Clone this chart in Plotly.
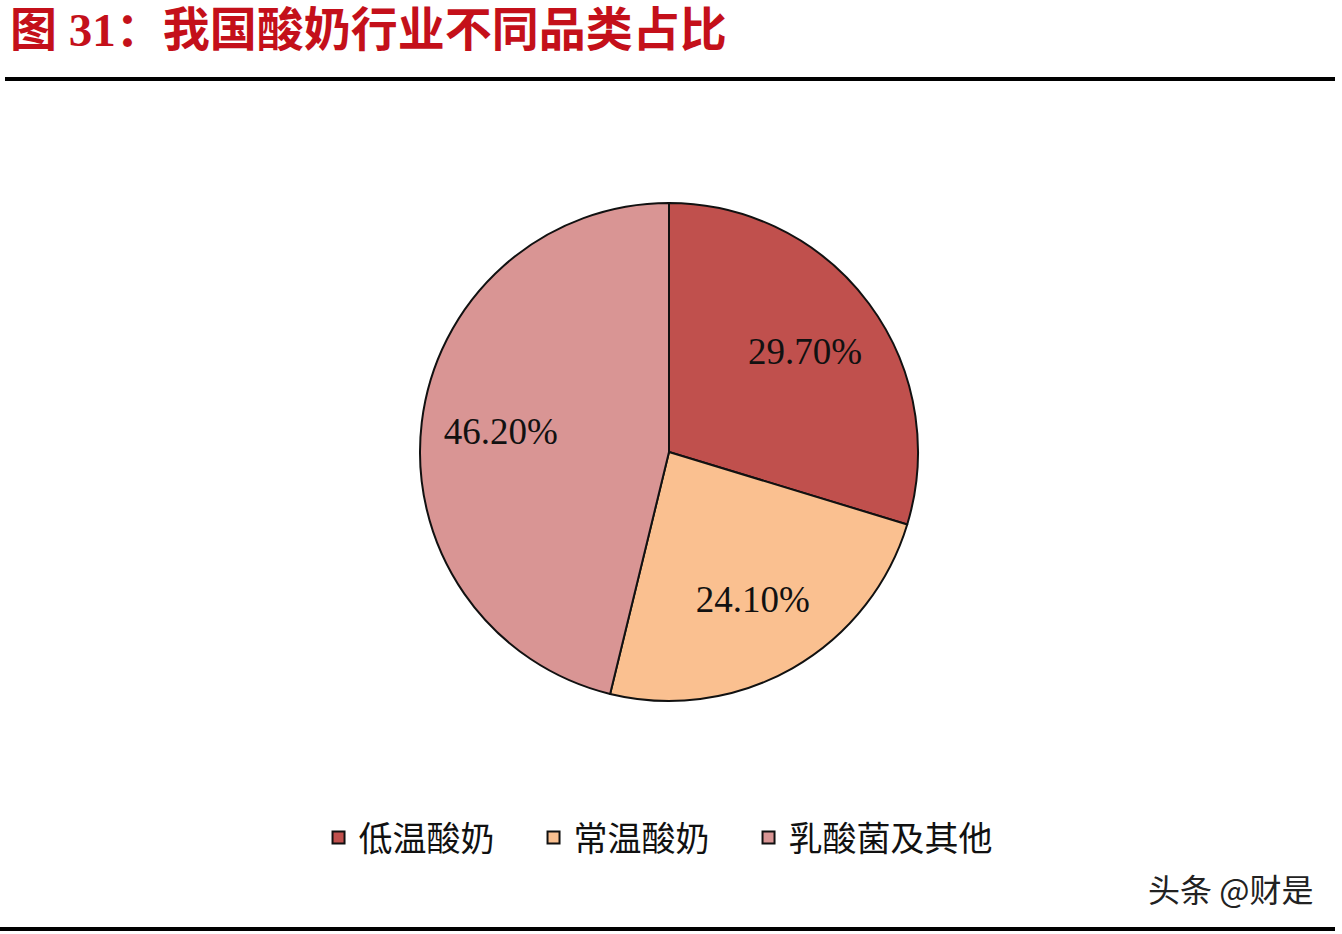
import plotly.graph_objects as go

# 数据
categories = ["低温酸奶", "常温酸奶", "乳酸菌及其他"]
shares = [29.70, 24.10, 46.20]
text_labels = ["29.70%", "24.10%", "46.20%"]
colors = ["#C0504D", "#FAC090", "#D99594"]

title_text = "图 31：我国酸奶行业不同品类占比"
watermark = "头条 @财是"

W, H = 1342, 934
pie_domain = dict(x=[420 / W, 918 / W], y=[1 - 701 / H, 1 - 203 / H])

# 图例项之间留宽一点（全角空格）
legend_labels = [c + "\u3000" for c in categories]

# 饼图本体
fig = go.Figure(go.Pie(
    labels=legend_labels,
    values=shares,
    textinfo="none",
    marker=dict(colors=colors, line=dict(color="#111111", width=2)),
    sort=False,
    direction="clockwise",
    rotation=0,
    hoverinfo="label+percent",
    domain=pie_domain,
))

# 标签层（透明环形，让文字更靠外）
fig.add_trace(go.Pie(
    labels=legend_labels,
    values=shares,
    text=text_labels,
    textinfo="text",
    textposition="inside",
    insidetextorientation="horizontal",
    insidetextfont=dict(family="Liberation Serif", size=37, color="#111111"),
    marker=dict(colors=["rgba(0,0,0,0)"] * 3, line=dict(width=0)),
    hole=0.36,
    sort=False,
    direction="clockwise",
    rotation=0,
    hoverinfo="skip",
    showlegend=False,
    domain=pie_domain,
))

fig.update_layout(
    width=W, height=H,
    autosize=False,
    margin=dict(l=0, r=0, t=0, b=0),
    paper_bgcolor="white",
    plot_bgcolor="white",
    showlegend=True,
    legend=dict(
        orientation="h",
        x=0.503, xanchor="center",
        y=1 - 838 / H, yanchor="middle",
        font=dict(family="Noto Sans CJK SC", size=34, color="#111111"),
        traceorder="normal",
    ),
    shapes=[
        dict(type="line", xref="paper", yref="paper",
             x0=5 / W, x1=1335 / W, y0=1 - 79 / H, y1=1 - 79 / H,
             line=dict(color="black", width=4)),
        dict(type="line", xref="paper", yref="paper",
             x0=0, x1=1335 / W, y0=1 - 929 / H, y1=1 - 929 / H,
             line=dict(color="black", width=4)),
    ],
    annotations=[
        dict(text="<b>" + title_text + "</b>", xref="paper", yref="paper",
             x=8 / W, y=1 - 30 / H, xanchor="left", yanchor="middle",
             showarrow=False,
             font=dict(family="Liberation Serif, Noto Sans CJK SC", size=47, color="#C4101A")),
        dict(text=watermark, xref="paper", yref="paper",
             x=1315 / W, y=1 - 888 / H, xanchor="right", yanchor="middle",
             showarrow=False,
             font=dict(family="Noto Sans CJK SC", size=32, color="#222222")),
    ],
)

fig.write_html("out.html", config={"displayModeBar": False},
               post_script="document.body.style.margin='0';")
